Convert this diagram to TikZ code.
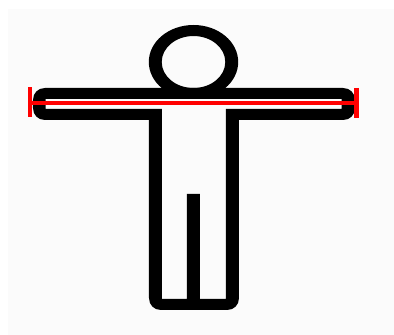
\documentclass[tikz,border=0pt]{standalone}
\definecolor{paper}{HTML}{FBFBFB}
\definecolor{bar}{HTML}{FF0000}
\tikzset{
  figure/.style={fill=black,even odd rule},
  measure/.style={draw=bar,line width=4pt*0.75},
  tick/.style={draw=bar,line width=4.4pt*0.75}
}
\begin{document}
\begin{tikzpicture}[x=0.75pt,y=-0.75pt]
\useasboundingbox (0,0) rectangle (394,335);
\fill[white] (0,0) rectangle (394,335);
\fill[paper] (8,9) rectangle (394,335);
% head ring
\fill[figure] (193.5,62) ellipse [x radius=44.7,y radius=37] (193.5,62) ellipse [x radius=31.8,y radius=26];
% body and arms
\fill[figure]
  (45,88) -- (343,88) .. controls (350,88) and (355,93) .. (355,100) -- (355,108) .. controls (355,115) and (350,120) .. (343,120)
  -- (239,120) -- (239,298) .. controls (239,305) and (234,310) .. (227,310)
  -- (161,310) .. controls (154,310) and (149,305) .. (149,298)
  -- (149,120) -- (45,120) .. controls (38,120) and (33,115) .. (33,108)
  -- (33,100) .. controls (33,93) and (38,88) .. (45,88) -- cycle
  (45.6,99) -- (341.7,99) -- (341.7,109) -- (226,109) -- (226,299) -- (200,299) -- (200,194) -- (187,194) -- (187,299) -- (162,299) -- (162,109) -- (45.6,109) -- cycle;
% arm span
\coordinate (spanL) at (30.2,102.7);
\coordinate (spanR) at (356.7,102.7);
\draw[measure] (spanL) -- (spanR);
\draw[tick] (30.2,87.3) -- (30.2,117.3);
\draw[tick] (356.7,88) -- (356.7,118);
\end{tikzpicture}
\end{document}
